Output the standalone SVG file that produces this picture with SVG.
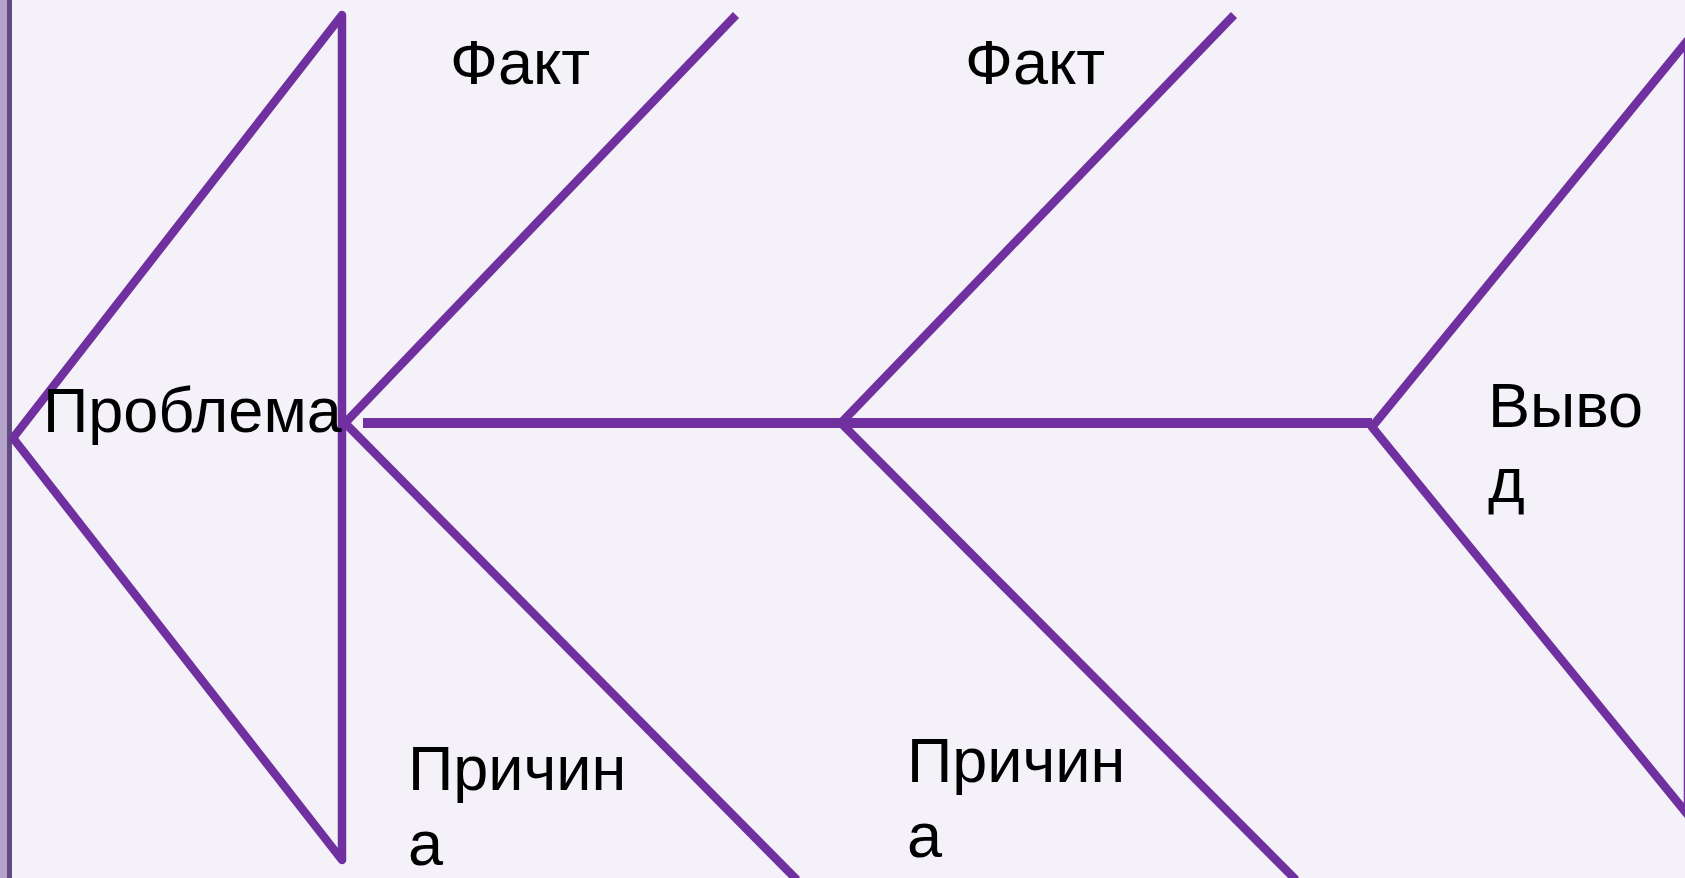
<svg xmlns="http://www.w3.org/2000/svg" width="1685" height="878" viewBox="0 0 1685 878">
<style>
.bg{fill:#f4f2f8}
.ln{fill:none;stroke:#7030a0;stroke-width:8.5;stroke-linejoin:round}
.spine{fill:none;stroke:#7030a0;stroke-width:10}
.t{font-family:"Liberation Sans",Arial,sans-serif;font-size:63px;fill:#000}
.f{font-size:63px}
</style>
<rect class="bg" x="0" y="0" width="1685" height="878"/>
<rect x="0" y="0" width="7" height="878" fill="#b3a2c9"/>
<rect x="7" y="0" width="5" height="878" fill="#5f4b80"/>
<g id="connectors">
<line class="spine" x1="363" y1="423" x2="1372" y2="423"/>
<line class="ln" x1="345" y1="423" x2="736" y2="15"/>
<line class="ln" x1="345" y1="423" x2="797" y2="880"/>
<line class="ln" x1="841" y1="423" x2="1234" y2="15"/>
<line class="ln" x1="841" y1="423" x2="1296" y2="880"/>
</g>
<g id="head">
<polygon class="ln" points="13,438 342,15 342,860"/>
<text class="t" x="43" y="432">Проблема</text>
</g>
<g id="tail">
<polygon class="ln" points="1372,427 1688,40 1688,815"/>
<text class="t" x="1488" y="427">Выво</text>
<text class="t" x="1488" y="502">д</text>
</g>
<g id="fact1"><text class="t f" x="450" y="84">Факт</text></g>
<g id="fact2"><text class="t f" x="965" y="84">Факт</text></g>
<g id="cause1">
<text class="t" x="408" y="790">Причин</text>
<text class="t" x="408" y="865">а</text>
</g>
<g id="cause2">
<text class="t" x="907" y="782">Причин</text>
<text class="t" x="907" y="857">а</text>
</g>
</svg>
